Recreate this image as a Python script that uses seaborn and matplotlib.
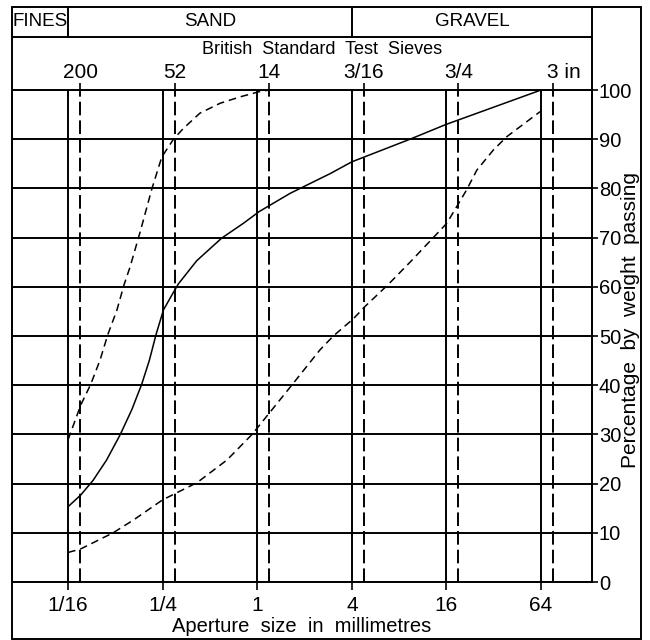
import numpy as np
import pandas as pd
import matplotlib
matplotlib.use('Agg')
import matplotlib.pyplot as plt
import seaborn as sns
from matplotlib.ticker import NullLocator, FixedLocator, FixedFormatter
from matplotlib.transforms import blended_transform_factory, ScaledTranslation

# Axis ticks (aperture size in mm, log scale)
mm_ticks = [1/16, 1/4, 1, 4, 16, 64]
mm_labels = ['1/16', '1/4', '1', '4', '16', '64']

# British Standard test sieves
sieve_mm = [0.075, 0.3, 1.18, 4.76, 19.05, 76.2]
sieve_labels = ['200', '52', '14', '3/16', '3/4', '3 in']

pct_ticks = list(range(0, 101, 10))

# Soil classes and their size limits (mm)
class_names = ['FINES', 'SAND', 'GRAVEL']
class_limits = [1/16, 4]

# Grading curves
solid_mm = [0.0625, 0.0754, 0.0904, 0.110, 0.134, 0.159, 0.184, 0.206, 0.227,
            0.253, 0.286, 0.315, 0.412, 0.594, 0.816, 1.03, 1.62, 2.91, 4.0,
            9.38, 15.9, 64]
solid_pct = [15.3, 17.7, 20.7, 24.8, 29.9, 35, 40.2, 45.1, 50.3,
             55.3, 58.3, 60.6, 65.3, 69.9, 72.9, 75.3, 79, 83, 85.4,
             90, 93, 100]

fine_mm = [0.0625, 0.0754, 0.0872, 0.0999, 0.112, 0.128, 0.142, 0.155, 0.180,
           0.213, 0.247, 0.293, 0.339, 0.432, 0.580, 0.777, 1.04, 1.2]
fine_pct = [28.9, 36, 40.2, 45.1, 50.3, 55.3, 60.4, 64, 71.2,
            79.8, 86.4, 90, 92.2, 95.3, 97.3, 98.6, 99.7, 100]

coarse_mm = [0.0625, 0.075, 0.121, 0.163, 0.25, 0.414, 0.642, 0.927, 1.24,
             1.62, 2.51, 3.05, 4.09, 4.85, 6.83, 9.38, 13.2, 16.07, 18.6,
             21.5, 24.95, 31.8, 38.7, 63.1]
coarse_pct = [6, 6.7, 10, 12.6, 16.7, 20.2, 24.8, 30, 35,
              39.6, 47.2, 50, 53.5, 56, 60.5, 65, 70, 72.9, 76.3,
              79.7, 83.7, 87.8, 90.5, 95.6]

df = pd.concat([
    pd.DataFrame({'size': solid_mm, 'passing': solid_pct, 'sample': 'B'}),
    pd.DataFrame({'size': fine_mm, 'passing': fine_pct, 'sample': 'A'}),
    pd.DataFrame({'size': coarse_mm, 'passing': coarse_pct, 'sample': 'C'}),
], ignore_index=True)

sns.set_style('white')
plt.rcParams['font.family'] = ['Liberation Sans', 'DejaVu Sans']
plt.rcParams.update({'text.color': 'black', 'axes.labelcolor': 'black',
                     'xtick.color': 'black', 'ytick.color': 'black'})

W, H = 650, 640
fig = plt.figure(figsize=(W / 100, H / 100), dpi=100)
# plot area in pixels: x 12..592, y 90..582
ax = fig.add_axes([12 / W, (H - 582) / H, 580 / W, 492 / H])

lw_grid = 1.4
xlim = (0.0275, 135)

sns.lineplot(data=df, x='size', y='passing', style='sample', units='sample',
             estimator=None, sort=False, color='black', linewidth=1.1,
             dashes={'A': (5, 3.2), 'B': '', 'C': (5, 3.2)},
             legend=False, ax=ax)

ax.set_xscale('log', base=2)
ax.set_xlim(*xlim)
ax.set_ylim(0, 100)
ax.xaxis.set_major_locator(FixedLocator(mm_ticks))
ax.xaxis.set_major_formatter(FixedFormatter(mm_labels))
ax.xaxis.set_minor_locator(NullLocator())
ax.set_yticks(pct_ticks)
ax.yaxis.tick_right()
ax.grid(True, color='black', linewidth=lw_grid)
ax.set_axisbelow(True)
for s in ax.spines.values():
    s.set_color('black')
    s.set_linewidth(lw_grid)

ax.tick_params(axis='x', direction='out', length=6, width=1.2, pad=4,
               labelsize=15, bottom=True)
ax.tick_params(axis='y', direction='out', length=4, width=1.2, pad=1,
               labelsize=14.5, right=True, left=False)

# sieve positions
for s in sieve_mm:
    ax.axvline(s, color='black', linewidth=1.4, linestyle=(0, (7, 2.6)))

ax.set_xlabel('Aperture  size  in  millimetres', fontsize=14.5, labelpad=1.5)
ax.set_ylabel('Percentage  by  weight  passing', fontsize=15)
ax.yaxis.set_label_position('right')
ax.yaxis.set_label_coords(1.050, 0.5325)

# top axis with sieve numbers
ax_top = ax.twiny()
ax_top.set_xscale('log', base=2)
ax_top.set_xlim(*xlim)
ax_top.xaxis.set_major_locator(FixedLocator(sieve_mm))
ax_top.xaxis.set_major_formatter(FixedFormatter(sieve_labels))
ax_top.xaxis.set_minor_locator(NullLocator())
ax_top.tick_params(axis='x', direction='out', length=5, width=1.2, pad=1,
                   labelsize=15)
for s in ax_top.spines.values():
    s.set_visible(False)
ax_top.grid(False)
last = ax_top.xaxis.get_major_ticks()[-1].label2
last.set_horizontalalignment('left')
last.set_transform(last.get_transform()
                   + ScaledTranslation(-6 / 100, 0, fig.dpi_scale_trans))

# header and outer frame
yt = (582 - 7) / 492
yh = (582 - 37) / 492
yb = (582 - 639) / 492
xr = (641 - 12) / 580
kw = dict(color='black', linewidth=lw_grid, clip_on=False)
ax.plot([0, xr], [yt, yt], transform=ax.transAxes, **kw)
ax.plot([0, 1], [yh, yh], transform=ax.transAxes, **kw)
ax.plot([0, xr], [yb, yb], transform=ax.transAxes, **kw)
ax.plot([0, 0], [yb, yt], transform=ax.transAxes, **kw)
ax.plot([xr, xr], [yb, yt], transform=ax.transAxes, **kw)
ax.plot([1, 1], [0, yt], transform=ax.transAxes, **kw)

trans = blended_transform_factory(ax.transData, ax.transAxes)
for lim in class_limits:
    ax.plot([lim, lim], [yh, yt], transform=trans, **kw)

bounds = [xlim[0]] + class_limits + [xlim[1]]
for name, lo, hi in zip(class_names, bounds[:-1], bounds[1:]):
    ax.text(np.sqrt(lo * hi), (582 - 22) / 492, name, transform=trans,
            ha='center', va='center', fontsize=13.5)

ax.text((322 - 12) / 580, (582 - 49) / 492, 'British  Standard  Test  Sieves',
        transform=ax.transAxes, ha='center', va='center', fontsize=13)

fig.savefig('out.png', dpi=100, facecolor='white')
